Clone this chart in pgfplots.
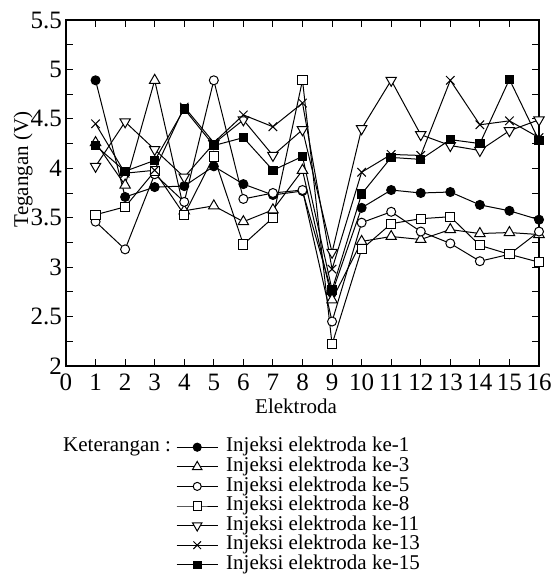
\documentclass[border=0pt]{standalone}
\usepackage{fontspec}
\setmainfont{Liberation Serif}
\usepackage{pgfplots}
\usepackage{pgfplotstable}
\pgfplotsset{compat=1.18}

% tegangan tiap elektroda untuk tiap injeksi
\pgfplotstableread{
x  s1   s3   s5   s8   s11  s13  s15
1  4.89 4.26 3.46 3.53 4.02 4.45 4.23
2  3.71 3.83 3.18 3.61 4.47 3.95 3.97
3  3.81 4.89 3.94 3.97 4.19 3.98 4.08
4  3.82 3.57 3.66 3.53 3.91 4.62 4.60
5  4.02 3.62 4.89 4.12 4.25 4.26 4.23
6  3.84 3.46 3.69 3.23 4.49 4.54 4.31
7  3.73 3.58 3.75 3.50 4.13 4.42 3.98
8  3.77 3.98 3.78 4.89 4.39 4.66 4.12
9  2.74 2.67 2.45 2.22 3.15 2.98 2.77
10 3.60 3.26 3.45 3.18 4.40 3.96 3.74
11 3.78 3.31 3.56 3.44 4.89 4.14 4.11
12 3.75 3.28 3.36 3.49 4.34 4.13 4.09
13 3.76 3.38 3.24 3.51 4.23 4.89 4.29
14 3.63 3.34 3.06 3.22 4.18 4.44 4.25
15 3.57 3.35 3.13 3.13 4.38 4.48 4.90
16 3.48 3.33 3.36 3.05 4.49 4.31 4.28
}\tegangan

\begin{document}
\begin{tikzpicture}
\useasboundingbox (-66pt,-221pt) rectangle (492pt,366pt);
\begin{axis}[
    at={(0,0)}, anchor=south west,
    scale only axis,
    width=473pt, height=346pt,
    xmin=0, xmax=16, ymin=2, ymax=5.5,
    xtick={0,1,...,16},
    ytick={2,2.5,3,3.5,4,4.5,5,5.5},
    minor y tick num=1,
    tick align=inside,
    major tick length=7pt, minor tick length=7pt,
    axis line style={line width=1.5pt},
    every tick/.style={black, line width=1pt},
    /pgf/number format/assume math mode=true,
    ticklabel style={font=\fontsize{25}{25}\selectfont, inner sep=2pt},
    xticklabel style={yshift=-6pt},
    yticklabel style={xshift=-2pt},
    legend style={at={(0.2326,-0.2058)}, anchor=north west,
        draw=none, fill=none, inner sep=0pt, row sep=0pt, column sep=8pt,
        font=\fontsize{21}{21}\selectfont,
        nodes={inner sep=0pt, text height=14.5pt, text depth=5.1pt}},
    legend cell align=left,
    legend image code/.code={
        \draw[mark repeat=2, mark phase=2, #1, every mark/.append style={scale=0.9}]
        plot coordinates {(0pt,0pt) (20.5pt,0pt) (41pt,0pt)};},
    every axis plot/.append style={black, line width=1pt},
]
\addplot[mark=*, mark size=4.5pt] table[x=x, y=s1] {\tegangan};
\addlegendentry{Injeksi elektroda ke-1}
\addplot[mark=triangle*, mark size=6pt, mark options={fill=white}] table[x=x, y=s3] {\tegangan};
\addlegendentry{Injeksi elektroda ke-3}
\addplot[mark=*, mark size=4.5pt, mark options={fill=white}] table[x=x, y=s5] {\tegangan};
\addlegendentry{Injeksi elektroda ke-5}
\addplot[mark=square*, mark size=4.6pt, mark options={fill=white}] table[x=x, y=s8] {\tegangan};
\addlegendentry{Injeksi elektroda ke-8}
\addplot[mark=triangle*, mark size=6pt, mark options={fill=white, rotate=180}] table[x=x, y=s11] {\tegangan};
\addlegendentry{Injeksi elektroda ke-11}
\addplot[mark=x, mark size=6pt] table[x=x, y=s13] {\tegangan};
\addlegendentry{Injeksi elektroda ke-13}
\addplot[mark=square*, mark size=4.2pt] table[x=x, y=s15] {\tegangan};
\addlegendentry{Injeksi elektroda ke-15}
\end{axis}
\begin{scope}[every node/.style={font=\fontsize{21}{21}\selectfont, inner sep=0pt}]
\node[anchor=base] at (230pt,-47pt) {Elektroda};
\node[rotate=90, anchor=center] at (-43pt,196.5pt) {Tegangan (V)};
\node[anchor=base west] at (-3pt,-85.7pt) {Keterangan :};
\end{scope}
\end{tikzpicture}
\end{document}
